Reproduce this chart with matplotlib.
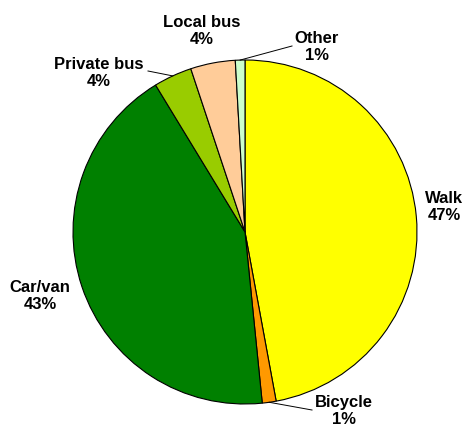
import numpy as np
import matplotlib.pyplot as plt

# Data
modes = ["Walk", "Bicycle", "Car/van", "Private bus", "Local bus", "Other"]
shares = [47.1, 1.3, 42.9, 3.6, 4.2, 0.9]
pct_labels = ["47%", "1%", "43%", "4%", "4%", "1%"]
colors = ["#FFFF00", "#FF9900", "#008000", "#99CC00", "#FFCC99", "#CCFFCC"]

# label centres in pixel coords (y measured from top)
label_pos = [(444, 207), (344, 411), (40, 296), (99, 73), (202, 31), (317, 47)]
# leader line end points (pixel coords), None = no line
leader_end = [None, (312, 411), None, (148, 72), None, (292, 47)]

W, H = 464, 427
fig = plt.figure(figsize=(W / 100, H / 100), dpi=100)
ax = fig.add_axes([0, 0, 1, 1])
ax.set_xlim(0, W)
ax.set_ylim(0, H)
ax.set_aspect('equal')
ax.axis('off')

cx, cy, r = 245, H - 233, 172
wedges, _ = ax.pie(shares, colors=colors, startangle=90, counterclock=False,
                   center=(cx, cy), radius=r, frame=True,
                   wedgeprops=dict(edgecolor='black', linewidth=0.8))
ax.set_xlim(0, W)
ax.set_ylim(0, H)
ax.axis('off')

for w, name, pct, (lx, ly), end in zip(wedges, modes, pct_labels, label_pos, leader_end):
    ax.text(lx, H - ly, name + "\n" + pct, ha='center', va='center',
            fontsize=12, fontweight='bold', family='Liberation Sans',
            linespacing=1.15, color='black')
    if end is not None:
        ang = np.deg2rad((w.theta1 + w.theta2) / 2)
        sx, sy = cx + r * np.cos(ang), cy + r * np.sin(ang)
        ex, ey = end
        ax.plot([sx, ex], [sy, H - ey], color='black', linewidth=0.7)

fig.savefig("out.png", dpi=100)
